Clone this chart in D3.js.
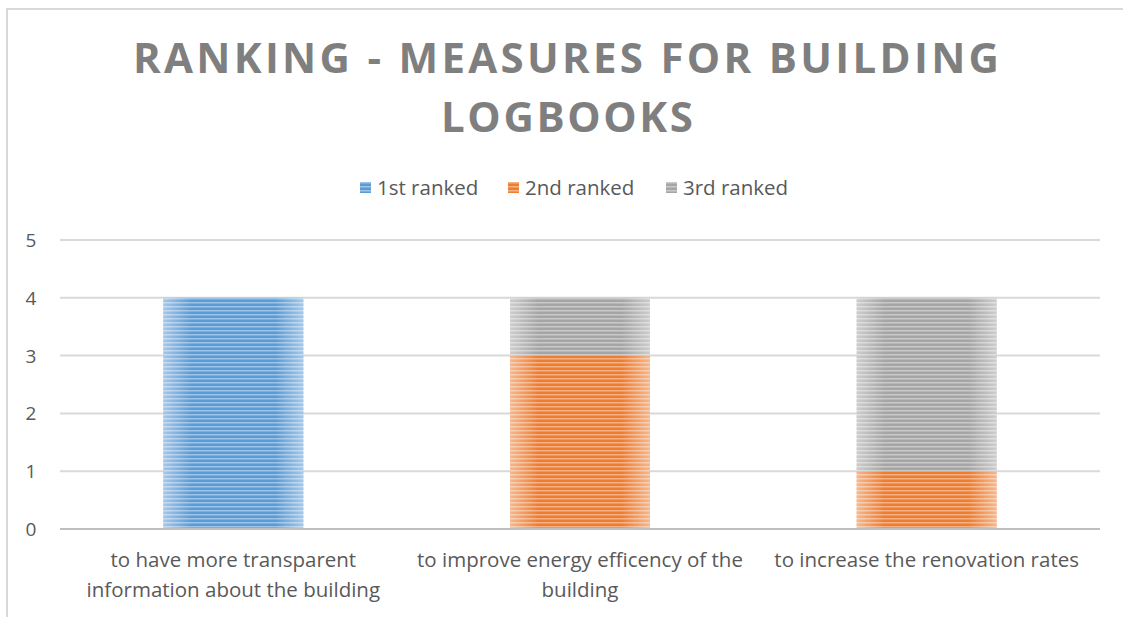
<!DOCTYPE html>
<html>
  <head>
    <script src="https://d3js.org/d3.v7.min.js"></script>
    <style>
      body { margin: 0; background: #fff; }
      text { font-family: "Open Sans", "Liberation Sans", sans-serif; fill: #595959; }
      .grid line { stroke: #d9d9d9; stroke-width: 2px; }
    </style>
  </head>
  <body>
    <svg width="1123" height="617"></svg>
    <script>
      const categories = [
        ["to have more transparent", "information about the building"],
        ["to improve energy efficency of the", "building"],
        ["to increase the renovation rates"]
      ];
      const seriesNames = ["1st ranked", "2nd ranked", "3rd ranked"];
      const first = [4, 0, 0];
      const second = [0, 3, 1];
      const third = [0, 1, 3];
      const yTicks = [0, 1, 2, 3, 4, 5];
      const colors = ["#5b9bd5", "#ed7d31", "#a5a5a5"];

      const svg = d3.select("svg");
      const plot = {left: 60, right: 1100, top: 240, bottom: 529};

      // frame
      svg.append("path")
        .attr("d", "M7,640 V9 H1123")
        .attr("fill", "none")
        .attr("stroke", "#d9d9d9")
        .attr("stroke-width", 2);

      // striped fills
      const defs = svg.append("defs");
      colors.forEach((c, i) => {
        const p = defs.append("pattern")
          .attr("id", "stripe" + i)
          .attr("patternUnits", "userSpaceOnUse")
          .attr("width", 8).attr("height", 4);
        p.append("rect").attr("width", 8).attr("height", 4).attr("fill", c);
        p.append("rect").attr("y", 2).attr("width", 8).attr("height", 1.5)
          .attr("fill", d3.interpolateRgb(c, "#fff")(0.4));
      });
      const grad = defs.append("linearGradient").attr("id", "edge");
      grad.append("stop").attr("offset", "0").attr("stop-color", "#fff").attr("stop-opacity", 0.45);
      grad.append("stop").attr("offset", "0.2").attr("stop-color", "#fff").attr("stop-opacity", 0);
      grad.append("stop").attr("offset", "0.8").attr("stop-color", "#fff").attr("stop-opacity", 0);
      grad.append("stop").attr("offset", "1").attr("stop-color", "#fff").attr("stop-opacity", 0.45);

      // title
      svg.append("text")
        .attr("x", 566).attr("y", 73)
        .attr("text-anchor", "middle")
        .attr("textLength", 866).attr("lengthAdjust", "spacing")
        .style("font-size", "42px").style("font-weight", "bold").style("fill", "#7f7f7f")
        .text("RANKING - MEASURES FOR BUILDING");
      svg.append("text")
        .attr("x", 567).attr("y", 132)
        .attr("text-anchor", "middle")
        .attr("textLength", 252).attr("lengthAdjust", "spacing")
        .style("font-size", "42px").style("font-weight", "bold").style("fill", "#7f7f7f")
        .text("LOGBOOKS");

      // legend
      const legendX = [360, 508, 666];
      const legend = svg.append("g");
      seriesNames.forEach((n, i) => {
        legend.append("rect")
          .attr("x", legendX[i]).attr("y", 182)
          .attr("width", 11).attr("height", 11)
          .attr("fill", "url(#stripe" + i + ")");
        legend.append("text")
          .attr("x", legendX[i] + 17).attr("y", 195)
          .style("font-size", "20.5px")
          .text(n);
      });

      const x = d3.scaleBand().domain(d3.range(categories.length)).range([plot.left, plot.right]);
      const y = d3.scaleLinear().domain([0, 5]).range([plot.bottom, plot.top]);

      // grid
      const grid = svg.append("g").attr("class", "grid");
      grid.selectAll("line").data(yTicks).join("line")
        .attr("x1", plot.left).attr("x2", plot.right)
        .attr("y1", d => y(d)).attr("y2", d => y(d));

      // y labels
      svg.append("g").selectAll("text").data(yTicks).join("text")
        .attr("x", 31).attr("y", d => y(d) + 7)
        .attr("text-anchor", "middle")
        .style("font-size", "19px")
        .text(d => d);

      // stacked bars
      const rows = categories.map((c, i) => ({ i, s0: first[i], s1: second[i], s2: third[i] }));
      const stack = d3.stack().keys(["s0", "s1", "s2"])(rows);
      const bw = 140;
      const bx = d => x(d.data.i) + x.bandwidth() / 2 - bw / 2;
      stack.forEach((layer, k) => {
        const segs = layer.filter(d => d[1] > d[0]);
        ["url(#stripe" + k + ")", "url(#edge)"].forEach(fill => {
          svg.append("g").selectAll("rect").data(segs).join("rect")
            .attr("x", bx)
            .attr("width", bw)
            .attr("y", d => y(d[1]))
            .attr("height", d => y(d[0]) - y(d[1]))
            .attr("fill", fill);
        });
      });

      // baseline
      svg.append("line")
        .attr("x1", plot.left).attr("x2", plot.right)
        .attr("y1", y(0)).attr("y2", y(0))
        .attr("stroke", "#bfbfbf").attr("stroke-width", 2);

      // category labels
      const cat = svg.append("g");
      categories.forEach((lines, i) => {
        const cx = x(i) + x.bandwidth() / 2;
        const t = cat.append("text")
          .attr("text-anchor", "middle")
          .attr("x", cx)
          .attr("y", 567)
          .style("font-size", "20.5px");
        lines.forEach((l, j) => {
          t.append("tspan")
            .attr("x", cx)
            .attr("dy", j === 0 ? 0 : 30)
            .text(l);
        });
      });
    </script>
  </body>
</html>
